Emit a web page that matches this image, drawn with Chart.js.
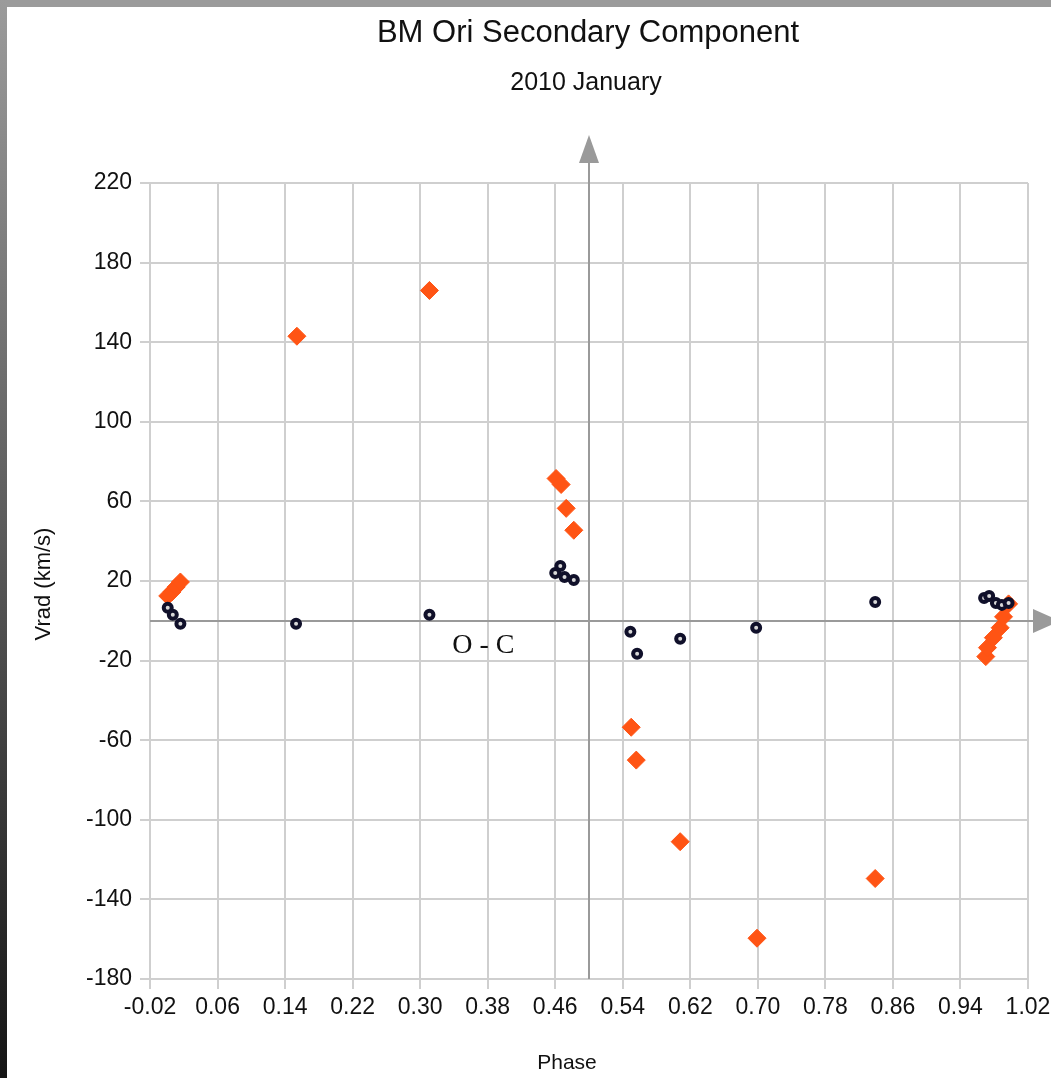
<!DOCTYPE html>
<html>
<head>
<meta charset="utf-8">
<title>BM Ori Secondary Component</title>
<script src="https://cdn.jsdelivr.net/npm/chart.js@4/dist/chart.umd.min.js"></script>
<style>
  html, body { margin: 0; padding: 0; background: #fff; }
  canvas { display: block; }
</style>
</head>
<body>
<canvas id="rv-chart" width="1051" height="1078"></canvas>
<script>
'use strict';

// ─────────────────────────────────────────────
// DATA
// ─────────────────────────────────────────────

const vradPhase = [0.001, 0.006, 0.011, 0.016, 0.154, 0.311, 0.461, 0.467, 0.473, 0.482,
                   0.550, 0.556, 0.608, 0.699, 0.839, 0.970, 0.972, 0.979, 0.987, 0.991, 0.997];
const vradKms   = [12.5, 14.5, 17, 19.5, 143, 166, 71.5, 68.5, 56.5, 45.5,
                   -53.5, -70, -111, -159.5, -129.5, -18, -13.5, -8.5, -3.5, 2, 8.5];

const ocPhase   = [0.001, 0.007, 0.016, 0.153, 0.311, 0.460, 0.466, 0.471, 0.482,
                   0.549, 0.557, 0.608, 0.698, 0.839, 0.968, 0.974, 0.982, 0.989, 0.997];
const ocKms     = [6.5, 3, -1.5, -1.5, 3, 24, 27.5, 22, 20.5,
                   -5.5, -16.5, -9, -3.5, 9.5, 11.5, 12.5, 9, 8, 9];

const xTicks = [-0.02, 0.06, 0.14, 0.22, 0.30, 0.38, 0.46, 0.54, 0.62, 0.70, 0.78, 0.86, 0.94, 1.02];
const yTicks = [-180, -140, -100, -60, -20, 20, 60, 100, 140, 180, 220];

const TITLE    = 'BM Ori Secondary Component';
const SUBTITLE = '2010 January';
const X_TITLE  = 'Phase';
const Y_TITLE  = 'Vrad (km/s)';
const OC_LABEL = 'O - C';

const SANS  = '"Liberation Sans", Arial, Helvetica, sans-serif';
const SERIF = '"Liberation Serif", "Times New Roman", serif';
const GRID  = '#cfcfcf';
const AXIS  = '#9a9a9a';

// ─────────────────────────────────────────────
// PLUGIN: frame, centre axes with arrows, texts
// ─────────────────────────────────────────────

const decorations = {
  id: 'decorations',

  beforeDraw(chart) {
    const { ctx, width, height } = chart;
    ctx.save();
    ctx.fillStyle = '#fff';
    ctx.fillRect(0, 0, width, height);
    // grey photo frame: top strip, darkening left strip
    ctx.fillStyle = '#9b9b9b';
    ctx.fillRect(0, 0, width, 7);
    const g = ctx.createLinearGradient(0, 0, 0, height);
    g.addColorStop(0, '#9b9b9b');
    g.addColorStop(0.5, '#5a5a5a');
    g.addColorStop(1, '#151515');
    ctx.fillStyle = g;
    ctx.fillRect(0, 0, 7, height);
    ctx.restore();
  },

  beforeDatasetsDraw(chart) {
    const { ctx, scales: { x, y }, chartArea } = chart;
    const x0 = Math.round(x.getPixelForValue(0.5));
    const y0 = Math.round(y.getPixelForValue(0));

    ctx.save();
    ctx.strokeStyle = AXIS;
    ctx.fillStyle = AXIS;
    ctx.lineWidth = 2;

    // vertical axis at phase 0.5
    ctx.beginPath();
    ctx.moveTo(x0, chartArea.bottom);
    ctx.lineTo(x0, chartArea.top - 30);
    ctx.stroke();
    ctx.beginPath();
    ctx.moveTo(x0, chartArea.top - 48);
    ctx.lineTo(x0 - 10, chartArea.top - 20);
    ctx.lineTo(x0 + 10, chartArea.top - 20);
    ctx.closePath();
    ctx.fill();

    // horizontal axis at 0 km/s
    ctx.beginPath();
    ctx.moveTo(chartArea.left, y0);
    ctx.lineTo(chartArea.right + 10, y0);
    ctx.stroke();
    ctx.beginPath();
    ctx.moveTo(chartArea.right + 5, y0 - 12);
    ctx.lineTo(chartArea.right + 32, y0);
    ctx.lineTo(chartArea.right + 5, y0 + 12);
    ctx.closePath();
    ctx.fill();

    // O - C label
    ctx.fillStyle = '#111';
    ctx.font = '28px ' + SERIF;
    ctx.textAlign = 'left';
    ctx.textBaseline = 'alphabetic';
    ctx.fillText(OC_LABEL, x.getPixelForValue(0.338), y.getPixelForValue(-16));
    ctx.restore();
  },

  afterDraw(chart) {
    const { ctx } = chart;
    ctx.save();
    ctx.fillStyle = '#111';
    ctx.textAlign = 'center';
    ctx.textBaseline = 'alphabetic';

    ctx.font = '31px ' + SANS;
    ctx.fillText(TITLE, 588, 42);
    ctx.font = '25px ' + SANS;
    ctx.fillText(SUBTITLE, 586, 90);

    ctx.font = '21px ' + SANS;
    ctx.textBaseline = 'middle';
    ctx.fillText(X_TITLE, 567, 1063);
    ctx.font = '22px ' + SANS;
    ctx.translate(44, 584);
    ctx.rotate(-Math.PI / 2);
    ctx.fillText(Y_TITLE, 0, 0);
    ctx.restore();
  },
};

// ─────────────────────────────────────────────
// CHART
// ─────────────────────────────────────────────

function fixedTicks(values) {
  return scale => { scale.ticks = values.map(v => ({ value: v })); };
}

function axisOptions(min, max, ticks, labelFmt, fitFn) {
  return {
    type: 'linear',
    min,
    max,
    afterBuildTicks: fixedTicks(ticks),
    afterFit: fitFn,
    grid: { color: GRID, lineWidth: 2, tickLength: 10, tickColor: GRID },
    border: { color: GRID, width: 2 },
    ticks: {
      color: '#111',
      font: { family: SANS, size: 23 },
      callback: labelFmt,
    },
  };
}

const xAxis = axisOptions(-0.02, 1.02, xTicks, v => v.toFixed(2), s => {
  s.height = 99;
  s.paddingLeft = 0;
  s.paddingRight = 0;
});
xAxis.ticks.padding = 5;
xAxis.ticks.maxRotation = 0;
xAxis.ticks.autoSkip = false;

const yAxis = axisOptions(-180, 220, yTicks, v => String(v), s => {
  s.width = 150;
  s.paddingTop = 0;
  s.paddingBottom = 0;
});
yAxis.ticks.padding = 8;
yAxis.ticks.autoSkip = false;

new Chart(document.getElementById('rv-chart'), {
  type: 'scatter',
  data: {
    datasets: [
      {
        label: 'O - C',
        data: ocPhase.map((p, i) => ({ x: p, y: ocKms[i] })),
        pointStyle: 'circle',
        pointRadius: 4,
        pointBorderWidth: 4,
        borderColor: '#10102a',
        backgroundColor: '#d8d8d8',
        order: 0,
      },
      {
        label: 'Vrad',
        data: vradPhase.map((p, i) => ({ x: p, y: vradKms[i] })),
        pointStyle: 'rectRot',
        pointRadius: 9,
        pointBorderWidth: 1,
        borderColor: '#ff5414',
        backgroundColor: '#ff5414',
        order: 1,
      },
    ],
  },
  options: {
    responsive: false,
    animation: false,
    layout: { padding: { top: 183, left: 0, right: 23, bottom: 0 } },
    plugins: {
      legend: { display: false },
      tooltip: { enabled: false },
    },
    scales: { x: xAxis, y: yAxis },
  },
  plugins: [decorations],
});
</script>
</body>
</html>
